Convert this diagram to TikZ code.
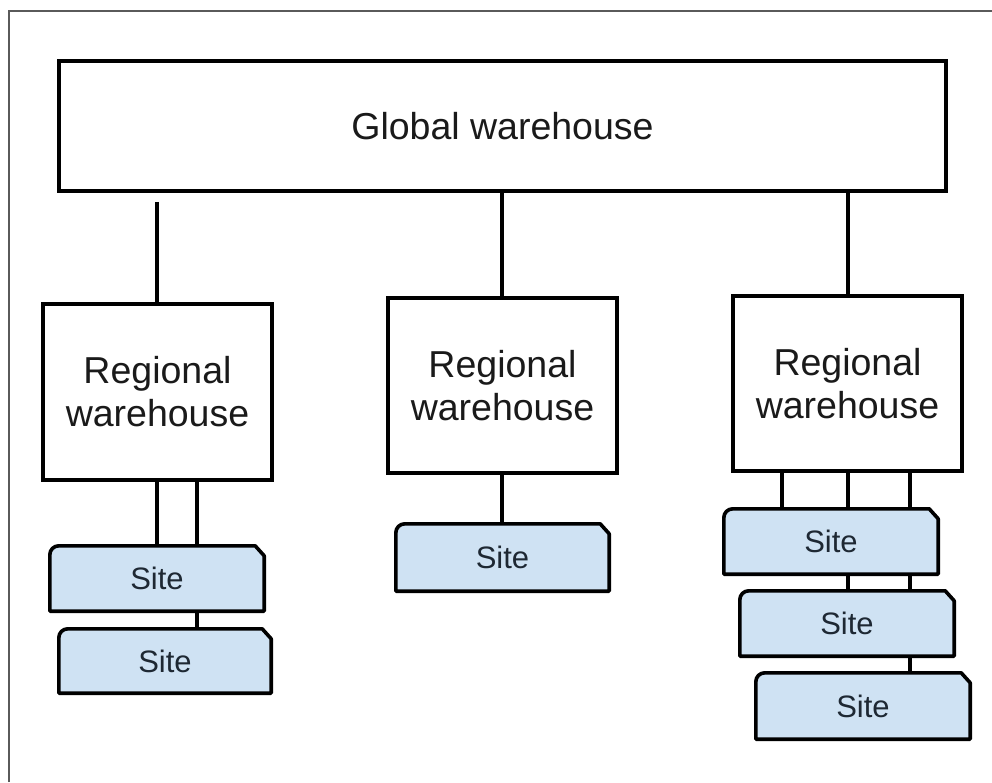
\documentclass[tikz,border=0pt]{standalone}
\usepackage{fontspec}
\setmainfont{Liberation Sans}
\usetikzlibrary{backgrounds}
\definecolor{sitefill}{HTML}{CFE2F3}
\definecolor{inkdark}{HTML}{1A1A1A}
\definecolor{sitetext}{HTML}{1E2833}
\definecolor{framegray}{HTML}{5A5A5A}
\tikzset{
  whbox/.style={draw=black, line width=3.6pt, fill=white, inner sep=0pt,
    align=center, text=inkdark, font=\fontsize{37.5}{43}\selectfont},
  sitebox/.style={inner sep=0pt, minimum width=214pt, minimum height=65pt,
    text=sitetext, font=\fontsize{31}{36}\selectfont},
  siteline/.style={draw=black, fill=sitefill, line width=3.6pt, line join=round},
  link/.style={draw=black, line width=3.4pt},
}
% outline of a site card: rounded top-left, chamfered top-right
\newcommand\sitecard[1]{%
  \path[siteline] (#1.south west) -- ([yshift=-9pt]#1.north west)
    arc[start angle=180, end angle=90, radius=9pt]
    -- ([xshift=-9pt]#1.north east) -- ([yshift=-10pt]#1.north east)
    -- (#1.south east) -- cycle;}
\begin{document}
\begin{tikzpicture}[x=1pt, y=-1pt]
\useasboundingbox (0,0) rectangle (992,782);
% page frame (open to the right and bottom)
\draw[framegray, line width=2pt] (9,782) -- (9,11) -- (992,11);

% warehouses
\node[whbox, minimum width=887pt, minimum height=130pt] (global) at (502.5,126) {Global warehouse};
\node[whbox, minimum width=229pt, minimum height=176pt] (reg1) at (157.5,392) {Regional\\warehouse};
\node[whbox, minimum width=229pt, minimum height=175pt] (reg2) at (502.5,385.5) {Regional\\warehouse};
\node[whbox, minimum width=229pt, minimum height=175pt] (reg3) at (847.5,383.5) {Regional\\warehouse};

% sites
\node[sitebox] (s11) at (157,578.5) {Site};
\node[sitebox, minimum width=212pt, minimum height=64pt] (s12) at (165,661) {Site};
\node[sitebox, minimum width=213pt, minimum height=67pt] (s21) at (502.5,557.5) {Site};
\node[sitebox] (s31) at (831,541.5) {Site};
\node[sitebox] (s32) at (847,623.5) {Site};
\node[sitebox, minimum height=66pt] (s33) at (863,706) {Site};

\begin{scope}[on background layer]
  \sitecard{s11}\sitecard{s12}\sitecard{s21}
  \sitecard{s31}\sitecard{s32}\sitecard{s33}
\end{scope}

% x positions of the vertical links
\coordinate (xa) at (157,0);
\coordinate (xb) at (197,0);
\coordinate (xc) at (502,0);
\coordinate (xd) at (782,0);
\coordinate (xe) at (848,0);
\coordinate (xf) at (910,0);

% global to regional
\draw[link] ([yshift=-9pt]global.south -| xa) -- (reg1.north -| xa);
\draw[link] (global.south -| xc) -- (reg2.north -| xc);
\draw[link] (global.south -| xe) -- (reg3.north -| xe);

% regional to sites
\draw[link] (reg1.south -| xa) -- (s11.north -| xa);
\draw[link] (reg1.south -| xb) -- (s11.north -| xb);
\draw[link] (s11.south -| xb) -- (s12.north -| xb);

\draw[link] (reg2.south -| xc) -- (s21.north -| xc);

\draw[link] (reg3.south -| xd) -- (s31.north -| xd);
\draw[link] (reg3.south -| xe) -- (s31.north -| xe);
\draw[link] (reg3.south -| xf) -- (s31.north -| xf);
\draw[link] (s31.south -| xe) -- (s32.north -| xe);
\draw[link] (s31.south -| xf) -- (s32.north -| xf);
\draw[link] (s32.south -| xf) -- (s33.north -| xf);
\end{tikzpicture}
\end{document}
